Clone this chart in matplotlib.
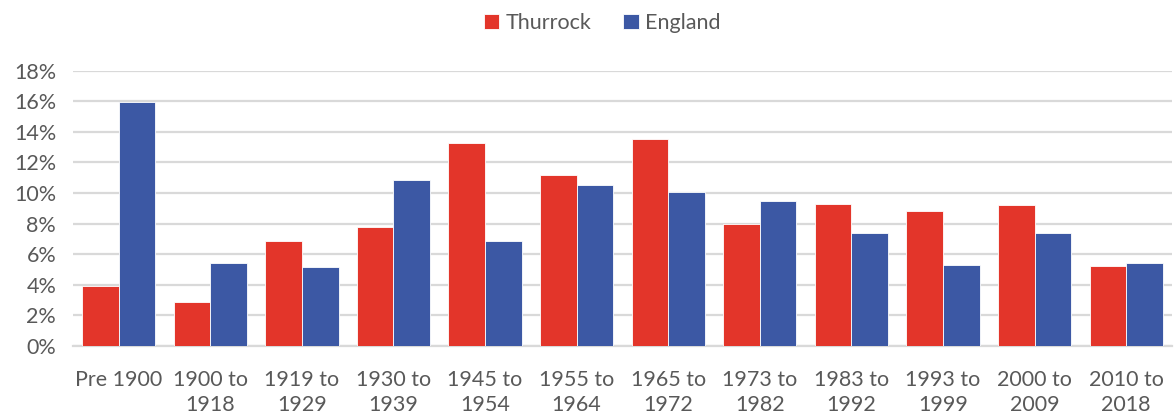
import matplotlib.pyplot as plt
import numpy as np
from matplotlib.ticker import PercentFormatter

periods = ["Pre 1900", "1900 to\n1918", "1919 to\n1929", "1930 to\n1939", "1945 to\n1954",
           "1955 to\n1964", "1965 to\n1972", "1973 to\n1982", "1983 to\n1992", "1993 to\n1999",
           "2000 to\n2009", "2010 to\n2018"]
thurrock = [3.95, 2.85, 6.85, 7.75, 13.25, 11.2, 13.55, 7.95, 9.3, 8.85, 9.2, 5.2]
england = [15.98, 5.45, 5.15, 10.85, 6.88, 10.55, 10.1, 9.5, 7.4, 5.3, 7.4, 5.45]

red = "#E3352A"
blue = "#3C58A4"
text_col = "#595959"

plt.rcParams['font.family'] = ['Lato', 'DejaVu Sans']

fig = plt.figure(figsize=(11.76, 4.19), dpi=100)
ax = fig.add_axes([0.062, 0.1742, 0.9346, 0.6571])

x = np.arange(len(periods))
w = 0.4
ax.bar(x - w / 2, thurrock, w, color=red, edgecolor="white", linewidth=0.6, label="Thurrock", zorder=3)
ax.bar(x + w / 2, england, w, color=blue, edgecolor="white", linewidth=0.6, label="England", zorder=3)

ax.set_xlim(-0.5, len(periods) - 0.5)
ax.set_ylim(0, 18)
ax.set_yticks(np.arange(0, 19, 2))
ax.yaxis.set_major_formatter(PercentFormatter(decimals=0))
ax.grid(axis="y", color="#d9d9d9", linewidth=1.6, zorder=0)
ax.set_xticks(x)
ax.set_xticklabels(periods, linespacing=1.35)
ax.tick_params(length=0, labelsize=15.5, colors=text_col)
ax.tick_params(axis="x", pad=17)
ax.tick_params(axis="y", pad=12)
for s in ["top", "right", "left"]:
    ax.spines[s].set_visible(False)
ax.spines["bottom"].set_color("#d9d9d9")
ax.spines["bottom"].set_linewidth(1.6)

leg = fig.legend(loc="upper center", bbox_to_anchor=(0.512, 1.015), ncol=2, frameon=False,
                 fontsize=15.5, handlelength=0.7, handleheight=0.7, columnspacing=1.5,
                 handletextpad=0.3)
for t in leg.get_texts():
    t.set_color(text_col)

fig.savefig("out.png", dpi=100)
